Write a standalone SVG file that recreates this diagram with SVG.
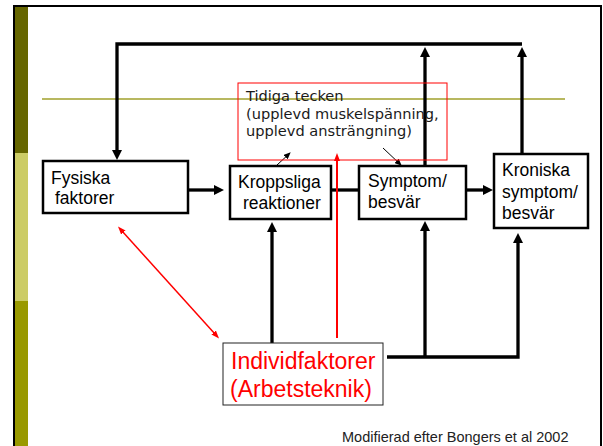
<svg xmlns="http://www.w3.org/2000/svg" width="603" height="446" viewBox="0 0 603 446">
<defs>
<style>
.box{fill:#fff;stroke:#000;stroke-width:2.5}
.lbl{font-family:"Liberation Sans",Arial,sans-serif;font-size:17.5px;fill:#000}
.con{fill:none;stroke:#000;stroke-width:3.3}
.red{fill:none;stroke:#f00}
.thin{fill:none;stroke:#000;stroke-width:1}
</style>
<marker id="ah" markerUnits="userSpaceOnUse" viewBox="0 0 10 10" refX="3" refY="5" markerWidth="10" markerHeight="10" orient="auto"><path d="M0,0L10,5L0,10z" fill="#000"/></marker>
<marker id="rh" markerUnits="userSpaceOnUse" viewBox="0 0 8 6" refX="2" refY="3" markerWidth="8" markerHeight="6" orient="auto"><path d="M0,0L8,3L0,6z" fill="#f00"/></marker>
<marker id="rhs" markerUnits="userSpaceOnUse" viewBox="0 0 8 6" refX="6" refY="3" markerWidth="8" markerHeight="6" orient="auto"><path d="M8,0L0,3L8,6z" fill="#f00"/></marker>
<marker id="th" markerUnits="userSpaceOnUse" viewBox="0 0 7 6" refX="6" refY="3" markerWidth="7" markerHeight="6" orient="auto"><path d="M0,0L7,3L0,6z" fill="#000"/></marker>
</defs>
<rect x="0" y="0" width="603" height="446" fill="#fff"/>
<g id="frame">
<rect x="15" y="7" width="13" height="146" fill="#666600"/>
<rect x="15" y="153" width="13" height="148" fill="#cccc66"/>
<rect x="15" y="301" width="13" height="150" fill="#999900"/>
<path d="M14,450V6H601V450" fill="none" stroke="#000" stroke-width="2"/>
<line x1="42" y1="99" x2="565" y2="99" stroke="#b8b860" stroke-width="2"/>
</g>
<g id="connectors">
<path class="con" d="M188,190H217" marker-end="url(#ah)"/>
<path class="con" d="M331,190H361" marker-end="url(#ah)"/>
<path class="con" d="M466,190H486" marker-end="url(#ah)"/>
<path class="con" d="M425,166V54" marker-end="url(#ah)"/>
<path class="con" d="M522,154V54" marker-end="url(#ah)"/>
<path class="con" d="M522,44H117V153" marker-end="url(#ah)"/>
<path class="con" d="M272,343V229" marker-end="url(#ah)"/>
<path class="con" d="M387,357H518V240" marker-end="url(#ah)"/>
<path class="con" d="M425,357V228" marker-end="url(#ah)"/>
<path class="red" stroke-width="2" d="M337,338V159" marker-end="url(#rh)"/>
<path class="red" stroke-width="1.5" d="M122,231L215,334" marker-start="url(#rhs)" marker-end="url(#rh)"/>
<path class="thin" d="M277,165L290,153" marker-end="url(#th)"/>
<path class="thin" d="M383,148L401,165" marker-end="url(#th)"/>
</g>
<g id="tidiga">
<rect x="238" y="83" width="209" height="77" fill="none" stroke="#f00" stroke-width="1"/>
<text font-family="'DejaVu Sans',Verdana,sans-serif" font-size="14.6" fill="#1a1a1a">
<tspan x="246" y="101">Tidiga tecken</tspan>
<tspan x="246" y="118.5">(upplevd muskelspänning,</tspan>
<tspan x="246" y="136">upplevd ansträngning)</tspan>
</text>
</g>
<g id="fysiska">
<rect class="box" x="43" y="161" width="145" height="52"/>
<text class="lbl"><tspan x="51" y="184">Fysiska</tspan><tspan x="55" y="204">faktorer</tspan></text>
</g>
<g id="kroppsliga">
<rect class="box" x="230" y="166" width="101" height="53"/>
<text class="lbl"><tspan x="238" y="188">Kroppsliga</tspan><tspan x="243" y="209">reaktioner</tspan></text>
</g>
<g id="symptom">
<rect class="box" x="359" y="166" width="107" height="53"/>
<text class="lbl"><tspan x="368" y="187">Symptom/</tspan><tspan x="368" y="208">besvär</tspan></text>
</g>
<g id="kroniska">
<rect class="box" x="494" y="154" width="94" height="74"/>
<text class="lbl"><tspan x="502" y="176">Kroniska</tspan><tspan x="502" y="198">symptom/</tspan><tspan x="502" y="219">besvär</tspan></text>
</g>
<g id="individ">
<rect x="223" y="343" width="160" height="62" fill="#fff" stroke="#222" stroke-width="1"/>
<text font-family="'Liberation Sans',Arial,sans-serif" font-size="23" fill="#f00"><tspan x="231" y="369">Individfaktorer</tspan><tspan x="230" y="397">(Arbetsteknik)</tspan></text>
</g>
<text x="342" y="442" font-family="'Liberation Sans',Arial,sans-serif" font-size="14.5" fill="#222">Modifierad efter Bongers et al 2002</text>
</svg>
